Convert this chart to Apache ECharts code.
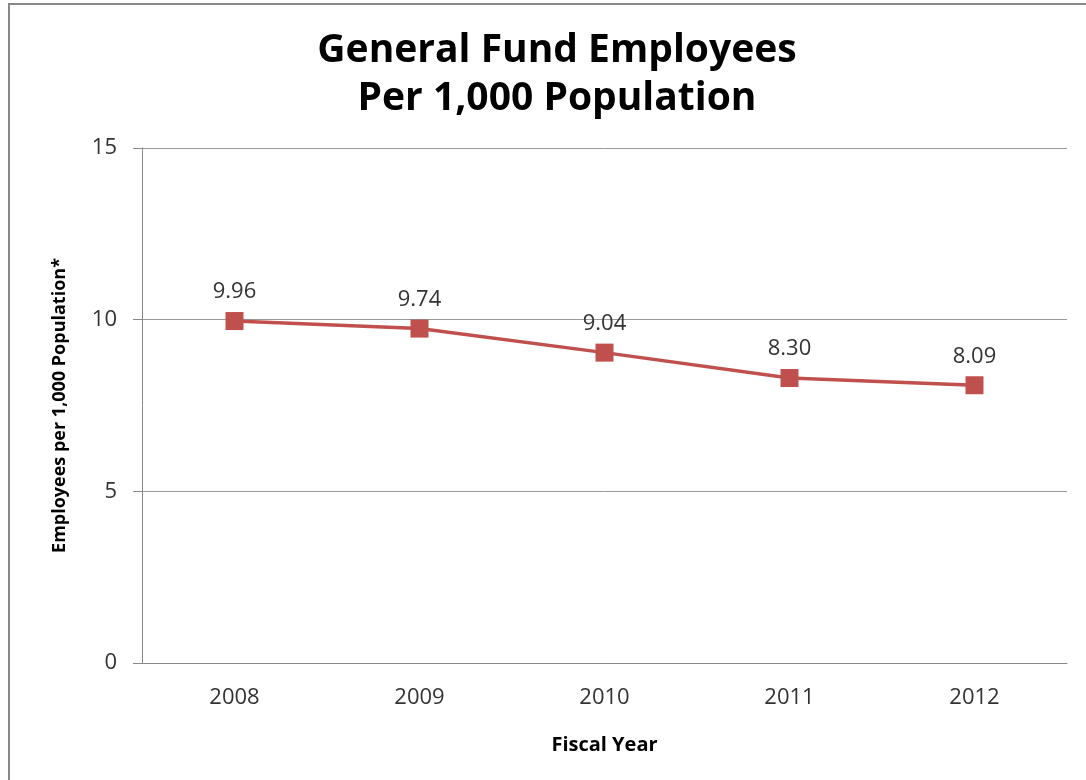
<!DOCTYPE html>
<html><head><meta charset="utf-8">
<script src="https://cdn.jsdelivr.net/npm/echarts@6/dist/echarts.min.js"></script>
<style>html,body{margin:0;padding:0;background:#fff}#c{width:1086px;height:780px}</style>
</head><body><div id="c"></div>
<script>
var categories = ['2008', '2009', '2010', '2011', '2012'];
var values = [9.96, 9.74, 9.04, 8.30, 8.09];
var yTicks = [0, 5, 10, 15];
var font = '"Open Sans", "Noto Sans", sans-serif';
var chart = echarts.init(document.getElementById('c'));
chart.setOption({
  animation: false,
  backgroundColor: '#fff',
  title: {
    text: 'General Fund Employees\nPer 1,000 Population',
    left: 552, top: 22, textAlign: 'center',
    textStyle: { fontFamily: font, fontSize: 39, fontWeight: 'bold', color: '#000', lineHeight: 48 }
  },
  graphic: [{
    type: 'polyline',
    shape: { points: [[9, 790], [9, 4], [1100, 4]] },
    style: { stroke: '#888', lineWidth: 2, fill: null }
  }],
  grid: { left: 142, right: 19, top: 148, bottom: 117 },
  xAxis: {
    type: 'category', data: categories, boundaryGap: true,
    name: 'Fiscal Year', nameLocation: 'middle', nameGap: 72,
    nameTextStyle: { fontFamily: font, fontSize: 20, fontWeight: 'bold', color: '#000' },
    axisLine: { lineStyle: { color: '#888', width: 1 } },
    axisTick: { show: false },
    axisLabel: { fontFamily: font, fontSize: 22, color: '#333', margin: 24 }
  },
  yAxis: {
    type: 'value', min: yTicks[0], max: yTicks[yTicks.length - 1], interval: 5,
    name: 'Employees per 1,000 Population*', nameLocation: 'middle', nameGap: 73,
    nameTextStyle: { fontFamily: font, fontSize: 18, fontWeight: 'bold', color: '#000' },
    axisLine: { show: true, lineStyle: { color: '#888', width: 1 } },
    axisTick: { show: true, length: 9, lineStyle: { color: '#888' } },
    axisLabel: { fontFamily: font, fontSize: 22, color: '#333', margin: 25 },
    splitLine: { lineStyle: { color: '#999', width: 1 } }
  },
  series: [{
    type: 'line', data: values,
    symbol: 'rect', symbolSize: 18,
    lineStyle: { color: '#c0504d', width: 3.5 },
    itemStyle: { color: '#c0504d' },
    label: {
      show: true, position: 'top', distance: 9,
      fontFamily: font, fontSize: 22, color: '#333',
      formatter: function (p) { return p.value.toFixed(2); }
    }
  }]
});
</script></body></html>
